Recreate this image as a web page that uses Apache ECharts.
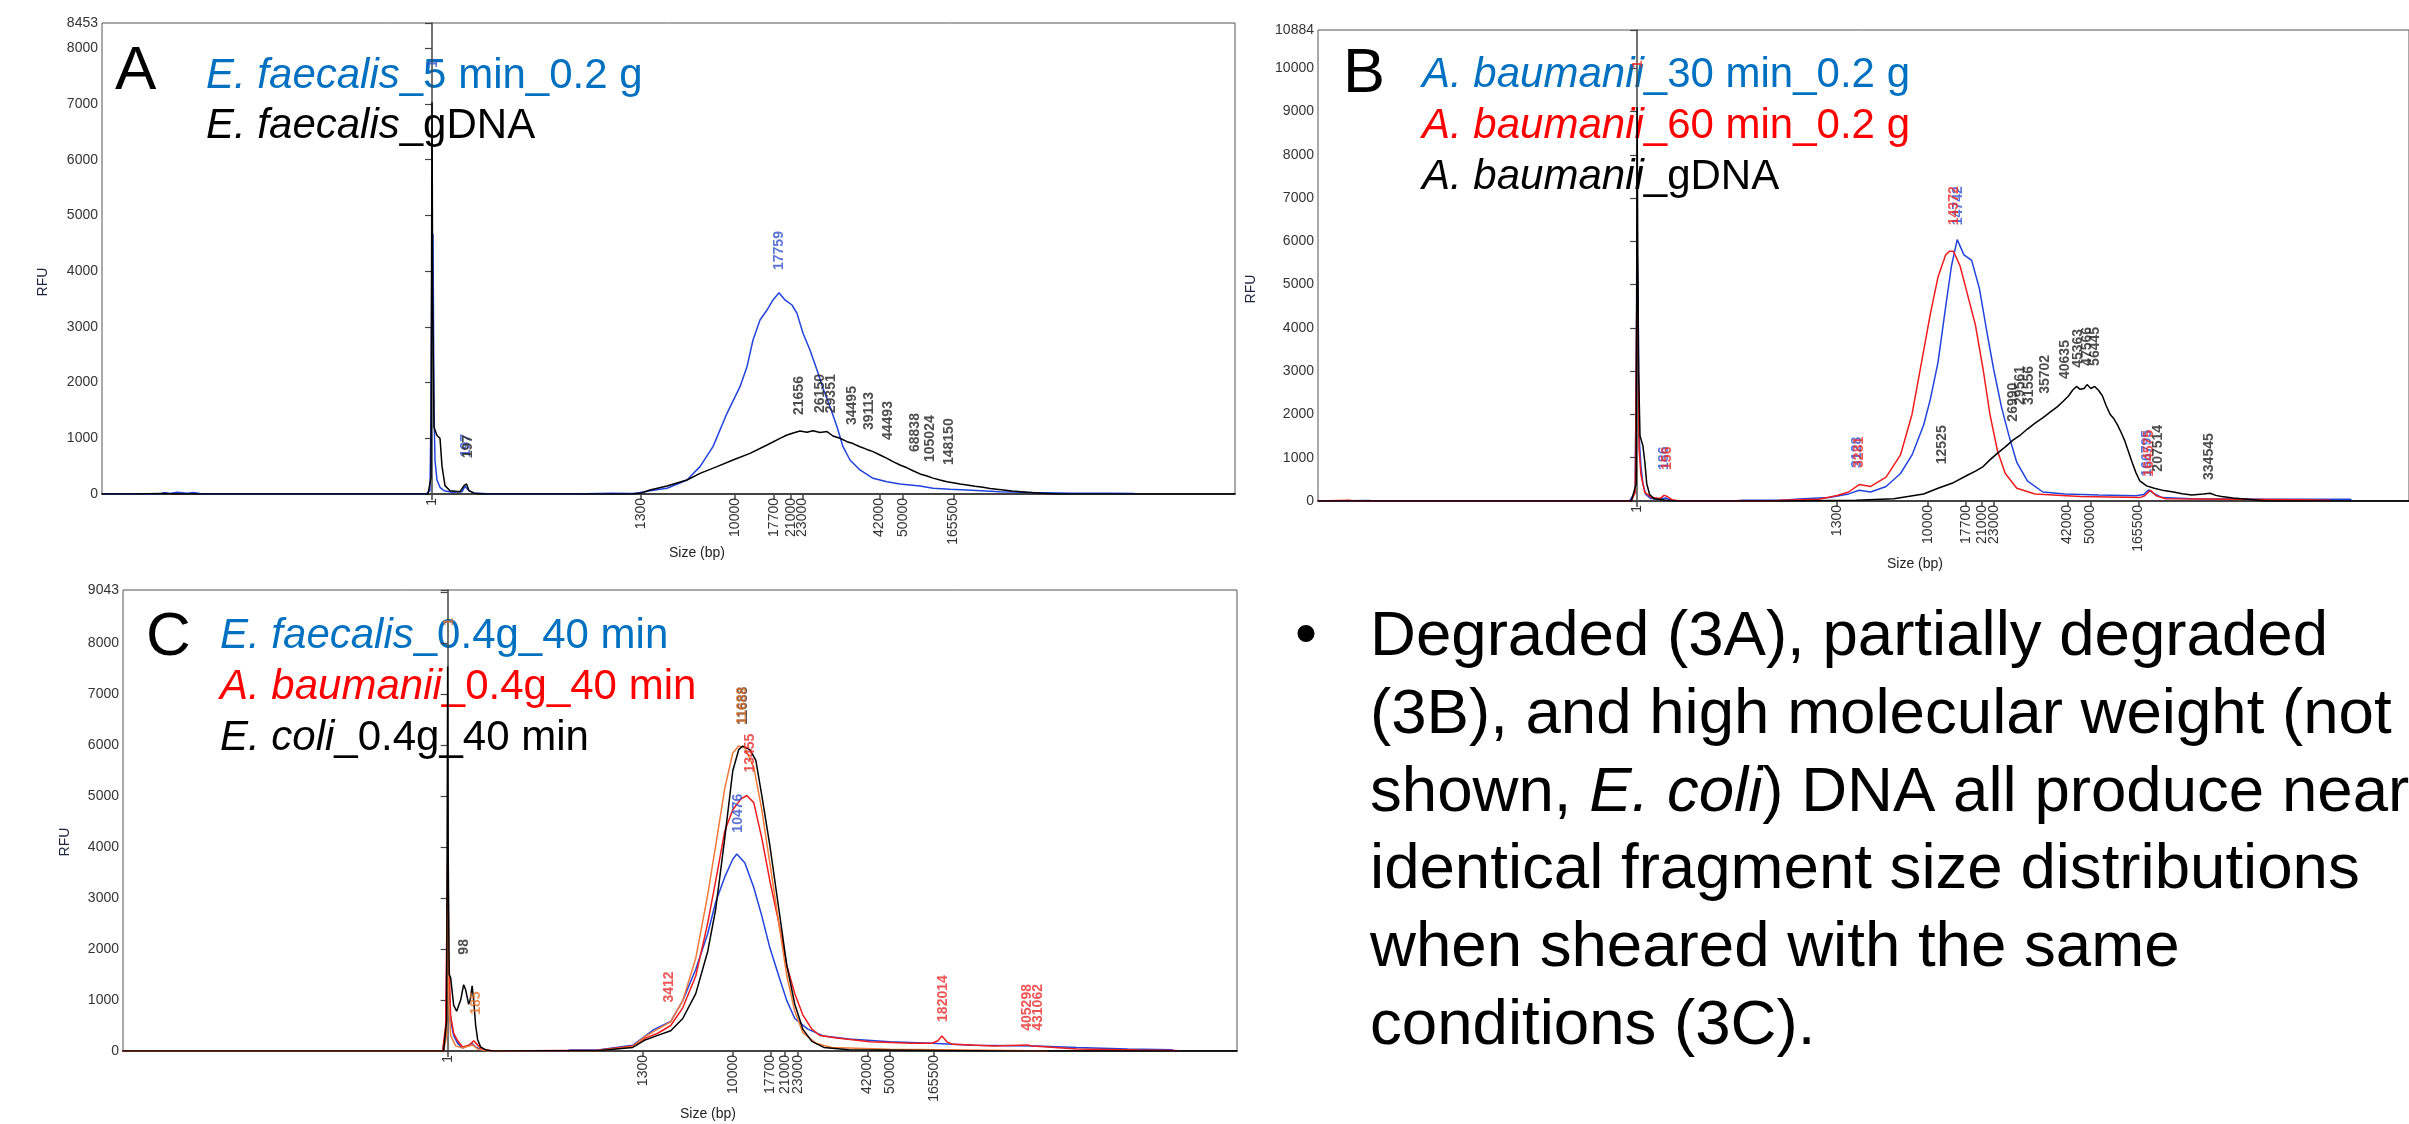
<!DOCTYPE html>
<html>
<head>
<meta charset="utf-8">
<script src="https://cdn.jsdelivr.net/npm/echarts@6/dist/echarts.min.js"></script>
<style>
html,body{margin:0;padding:0;background:#fff;}
#chart{width:2409px;height:1124px;}
</style>
</head>
<body>
<div id="chart"></div>
<script>
// ---------- DATA (scan position, RFU) ----------
const X_TICK_LABELS = ['1','1300','10000','17700','21000','23000','42000','50000','165500'];
const A_X_TICKS = [0, 208.7, 303, 342, 358.7, 370.3, 447.3, 470.7, 521.3];
const B_X_TICKS = [0, 208, 302.6, 341.8, 359, 371.4, 447.5, 471.6, 521.7];
const C_X_TICKS = [0, 195, 285, 322.6, 337, 350, 419.6, 442.4, 486];

const A_Y_MAX = 8453, B_Y_MAX = 10884, C_Y_MAX = 9043;

// Panel A
const A_EF_5MIN = [[-330,0],[-272,0],[-268,25],[-262,8],[-255,30],[-245,12],[-238,25],[-230,0],[-6,0],[-2,60],[-1,1500],[0,4700],[1,4650],[2,1500],[3,600],[5,250],[8,120],[12,60],[20,30],[30,40],[33,140],[35,150],[37,60],[42,20],[60,0],[138,0],[140,12],[180,15],[201,10],[208,25],[218,60],[235,102],[255,251],[268,491],[281,850],[295,1448],[308,1927],[315,2285],[321,2764],[328,3123],[335,3302],[341,3482],[347,3613],[353,3482],[360,3392],[365,3242],[371,2884],[378,2584],[385,2226],[391,1897],[398,1567],[405,1208],[411,849],[418,610],[428,431],[441,281],[455,221],[468,180],[488,144],[501,102],[518,84],[535,72],[568,42],[600,25],[640,15],[680,12],[702,10],[705,0]];
const A_EF_GDNA = [[-330,0],[-300,0],[-270,10],[-250,0],[-4,0],[-1,300],[0,7030],[0.7,3500],[2,1200],[5,1050],[8,1000],[10,500],[13,150],[18,60],[28,40],[32,150],[34.5,180],[37,60],[42,15],[50,0],[200,0],[210,20],[218,72],[235,144],[255,251],[268,371],[285,491],[301,610],[318,730],[335,879],[348,999],[355,1059],[362,1100],[368,1130],[375,1110],[381,1135],[388,1105],[395,1120],[401,1041],[408,1000],[415,939],[421,905],[428,849],[435,800],[441,760],[448,700],[455,640],[461,580],[468,520],[475,470],[481,418],[488,360],[495,323],[501,285],[508,251],[515,220],[521,203],[528,180],[535,162],[543,140],[551,120],[558,100],[565,84],[580,55],[595,30],[610,12],[625,0],[803,0]];
const A_BLUE_LABELS = [[347,4020,'17759'],[34.5,660,'197'],[1,7650,'1']];
const A_BLACK_LABELS = [[367,1418,'21656'],[388,1454,'26150'],[399,1450,'29351'],[420,1238,'34495'],[437,1148,'39113'],[456,969,'44493'],[483,754,'68838'],[498,574,'105024'],[517,520,'148150'],[36,640,'197']];

// Panel B
const B_AB_30MIN = [[-332,0],[-280,10],[-270,0],[-8,0],[-2,200],[0,5770],[1,4900],[2,1500],[4,800],[6,400],[9,150],[14,60],[22,40],[27,60],[30,70],[34,30],[40,0],[100,0],[110,20],[150,20],[173,53],[200,79],[220,164],[231,250],[243,208],[259,336],[274,635],[286,1064],[298,1749],[305,2347],[313,3204],[321,4490],[327,5430],[333,6040],[340,5688],[348,5560],[356,4917],[364,3889],[371,3033],[379,2176],[387,1493],[395,891],[406,463],[422,208],[445,162],[480,139],[519,122],[527,150],[532,255],[537,180],[546,79],[577,53],[655,40],[742,40],[744,0]];
const B_AB_60MIN = [[-332,0],[-300,15],[-295,0],[-6,0],[-2,200],[0,5500],[1,4000],[2,1200],[4,600],[8,200],[15,80],[24,60],[28,130],[31,110],[36,30],[45,0],[140,0],[150,20],[189,40],[208,125],[220,208],[231,380],[243,336],[259,550],[274,1064],[286,2005],[298,3461],[305,4317],[313,5174],[321,5688],[325,5771],[329,5773],[336,5430],[344,4745],[352,4060],[360,3033],[367,2005],[375,1150],[383,635],[395,293],[414,162],[461,104],[523,79],[528,120],[534,250],[540,120],[550,53],[616,40],[690,30],[720,20],[722,0]];
const B_AB_GDNA = [[-332,0],[-6,0],[-1,400],[0,9100],[0.6,6070],[1.5,3000],[3,1500],[6,1278],[8,900],[10,400],[13,150],[18,50],[30,20],[40,0],[150,0],[228,20],[267,53],[298,162],[313,293],[329,423],[344,600],[352,690],[360,796],[367,950],[375,1107],[383,1250],[391,1407],[399,1530],[406,1663],[414,1800],[422,1920],[430,2060],[437,2176],[443,2300],[449,2433],[453,2560],[457,2647],[461,2580],[465,2600],[468,2690],[472,2600],[476,2647],[480,2560],[484,2433],[488,2200],[492,2005],[496,1900],[500,1749],[504,1560],[507,1407],[511,1150],[515,891],[519,650],[523,463],[530,350],[538,293],[548,240],[558,208],[567,170],[577,139],[589,162],[596,180],[602,130],[608,104],[620,70],[635,40],[655,0],[803,0]];
const B_BLUE_LABELS = [[334,6373,'14742'],[28,718,'186'],[229,764,'3128'],[531,563,'166795']];
const B_RED_LABELS = [[330,6373,'14372'],[31,718,'156'],[231,764,'3281'],[533,563,'164575'],[1.4,10000,'1']];
const B_BLACK_LABELS = [[317,850,'12525'],[391,1834,'26990'],[398.5,2220,'29561'],[408,2220,'31556'],[424,2477,'35702'],[445,2819,'40635'],[459,3077,'45363'],[468,3122,'47566'],[477,3122,'56445'],[542,678,'207514'],[595,486,'334545']];

// Panel C
const C_EF_40MIN = [[-325,0],[-5,0],[-2,400],[0,3000],[1,1400],[3,600],[6,300],[10,150],[15,60],[20,100],[24,150],[28,80],[34,20],[45,0],[120,0],[122,20],[152,24],[185,112],[198,300],[206,418],[223,580],[235,988],[248,1605],[260,2304],[268,2928],[277,3415],[285,3761],[289,3865],[297,3692],[306,3207],[314,2651],[322,2029],[331,1471],[339,988],[347,638],[360,430],[376,293],[401,236],[442,183],[484,153],[525,112],[588,99],[629,70],[680,40],[724,24],[726,0]];
const C_AB_40MIN = [[-325,0],[-5,0],[-2,500],[0,3760],[0.5,3500],[1,2000],[3,700],[6,350],[10,200],[15,80],[22,120],[26,200],[29,140],[34,40],[45,0],[150,15],[185,99],[198,257],[210,348],[223,500],[235,847],[248,1471],[260,2512],[268,3345],[277,4317],[285,4733],[293,4941],[299,5012],[306,4872],[314,4177],[322,3345],[331,2512],[339,1679],[347,1125],[355,709],[364,430],[372,306],[389,257],[422,183],[463,153],[484,153],[490,200],[494,293],[499,180],[505,130],[546,99],[579,120],[585,100],[629,40],[691,20],[728,12],[730,0]];
const C_EC_40MIN = [[-325,0],[-4,0],[-1,600],[0,7540],[0.5,4000],[1.5,1500],[3,1440],[6,900],[9,780],[13,1000],[16,1300],[18,1200],[21,917],[22.5,1000],[24.5,1280],[26,1000],[28,500],[30,222],[33,80],[38,20],[45,0],[152,12],[185,70],[198,222],[210,306],[223,397],[235,638],[248,1126],[260,1958],[268,2790],[277,4177],[285,5497],[291,5913],[295,5982],[302,5913],[308,5705],[314,5014],[322,4040],[331,2790],[339,1679],[347,917],[355,430],[364,188],[376,70],[401,24],[484,12],[560,0],[789,0]];
const C_EXTRA = [[-325,0],[-4,0],[-1,300],[0,3700],[1,1000],[3,300],[8,100],[15,60],[25,120],[30,40],[40,0],[152,12],[185,85],[198,293],[210,430],[223,570],[235,988],[248,1819],[260,3070],[268,4040],[277,5151],[285,5845],[291,5982],[297,5948],[306,5566],[314,4733],[322,3692],[331,2512],[339,1471],[347,778],[355,361],[368,153],[384,70],[442,35],[567,12],[600,0]];
const C_BLUE_LABELS = [[290,4283,'10476']];
const C_RED_LABELS = [[221,950,'3412'],[302,5461,'13455'],[495.5,570,'182014'],[579,397,'405298'],[590,397,'431062']];
const C_BLACK_LABELS = [[295.5,6398,'11688'],[16.3,1890,'98']];
const C_ORANGE_LABELS = [[294,6398,'11688'],[1,8343,'1'],[28,710,'185']];

// ---------- STYLE ----------
const FONT = '"Liberation Sans", Arial, sans-serif';
const TRACE = {blue:'#2244dd', red:'#ee1c1c', black:'#000000', orange:'#f07a3a'};
const LBL = {blue:'#3352cc', red:'#e82a2a', black:'#222222', orange:'#e3742f'};
const LEG = {blue:'#0070C0', red:'#FF0000', black:'#000000'};

const grids = [
  {left:102, top:23, right:1174, bottom:630},
  {left:1318, top:30, right:-44, bottom:623},
  {left:123, top:590, right:1172, bottom:73}
];
grids.forEach(g => { g.show = true; g.borderColor = '#555'; g.borderWidth = 1; g.backgroundColor = 'transparent'; });

function rangeTicks(max, step){ const a=[]; for(let v=0; v<=max; v+=step) a.push(v); return a; }

function xAxis(i, min, max, ticks){
  return {
    type:'value', gridIndex:i, min:min, max:max,
    axisLine:{show:true, onZero:false, lineStyle:{color:'#444', width:2}},
    axisTick:{show:true, customValues:ticks, length:6, lineStyle:{color:'#444', width:1.5}},
    axisLabel:{customValues:ticks, rotate:90, fontSize:14, color:'#333', fontFamily:FONT, margin:4,
      formatter:(v)=>{ let k=-1, best=1e9; ticks.forEach((t,j)=>{ const d=Math.abs(t-v); if(d<best){best=d;k=j;} }); return best<0.5 ? X_TICK_LABELS[k] : ''; }},
    splitLine:{show:false}
  };
}
function yAxis(i, max, tickVals, labelVals){
  return {
    type:'value', gridIndex:i, min:0, max:max,
    axisLine:{show:true, lineStyle:{color:'#444', width:1.5}},
    axisTick:{show:true, customValues:tickVals, length:7, lineStyle:{color:'#444', width:1.2}},
    axisLabel:{customValues:labelVals, fontSize:14, color:'#333', fontFamily:FONT, margin:4,
      formatter:(v)=>String(Math.round(v))},
    splitLine:{show:false}
  };
}

function line(i, data, color, w){
  return {type:'line', xAxisIndex:i, yAxisIndex:i, data:data, showSymbol:false, symbol:'none',
    lineStyle:{color:color, width:w||1.5}, itemStyle:{color:color}, animation:false, silent:true, z:3};
}
function labels(i, data, color){
  return {type:'scatter', xAxisIndex:i, yAxisIndex:i, data:data, symbolSize:0.1,
    itemStyle:{color:'rgba(0,0,0,0)'}, animation:false, silent:true, z:5,
    label:{show:true, position:'inside', rotate:90, align:'left', verticalAlign:'middle',
      formatter:(p)=>p.value[2], color:color, fontSize:14, fontWeight:'bold', fontFamily:FONT}};
}

const yTA = rangeTicks(8000,1000).concat([A_Y_MAX]);
const yTB = rangeTicks(10000,1000).concat([B_Y_MAX]);
const yTC = rangeTicks(9000,1000).concat([C_Y_MAX]);
const yLC = rangeTicks(8000,1000).concat([C_Y_MAX]);

function legendLine(x, y, italic, rest, color){
  return {type:'text', x:x, y:y, silent:true, style:{
    text:'{i|'+italic+'}{n|'+rest+'}', align:'left', verticalAlign:'middle',
    rich:{i:{fontStyle:'italic', fontSize:42, fontFamily:FONT, fill:color},
          n:{fontSize:42, fontFamily:FONT, fill:color}}}};
}
function plainText(x, y, text, size, color){
  return {type:'text', x:x, y:y, silent:true, style:{text:text, fontSize:size, fontFamily:FONT, fill:color, align:'left', verticalAlign:'middle'}};
}
const BODY_SIZE = 63.6;
function bodyLine(y, rich){
  return {type:'text', x:1370, y:y, silent:true, style:{text:rich, align:'left', verticalAlign:'middle',
    fontSize:BODY_SIZE, fontFamily:FONT, fill:'#000',
    rich:{i:{fontStyle:'italic', fontSize:BODY_SIZE, fontFamily:FONT, fill:'#000'}, n:{fontSize:BODY_SIZE, fontFamily:FONT, fill:'#000'}}}};
}
function rfu(x, y){
  return {type:'text', x:x, y:y, rotation:Math.PI/2, silent:true, style:{text:'RFU', fontSize:14, fontFamily:FONT, fill:'#1e2440', align:'center', verticalAlign:'middle'}};
}
function sizeTitle(x, y){
  return {type:'text', x:x, y:y, silent:true, style:{text:'Size (bp)', fontSize:14, fontFamily:FONT, fill:'#222', align:'center', verticalAlign:'middle'}};
}

const graphic = [
  plainText(115, 72, 'A', 62, '#000'),
  legendLine(206, 76, 'E. faecalis', '_5 min_0.2 g', LEG.blue),
  legendLine(206, 126, 'E. faecalis', '_gDNA', LEG.black),
  plainText(1343, 75, 'B', 63, '#000'),
  legendLine(1422, 75, 'A. baumanii', '_30 min_0.2 g', LEG.blue),
  legendLine(1422, 126, 'A. baumanii', '_60 min_0.2 g', LEG.red),
  legendLine(1422, 177, 'A. baumanii', '_gDNA', LEG.black),
  plainText(146, 638, 'C', 62, '#000'),
  legendLine(220, 636, 'E. faecalis', '_0.4g_40 min', LEG.blue),
  legendLine(220, 687, 'A. baumanii', '_0.4g_40 min', LEG.red),
  legendLine(220, 738, 'E. coli', '_0.4g_40 min', LEG.black),
  rfu(43, 282), rfu(1251, 289), rfu(65, 842),
  sizeTitle(697, 553), sizeTitle(1915, 564), sizeTitle(708, 1114),
  plainText(1295, 637, '•', 63, '#000'),
  bodyLine(637, 'Degraded (3A), partially degraded'),
  bodyLine(715, '(3B), and high molecular weight (not'),
  bodyLine(793, 'shown, {i|E. coli}) DNA all produce near'),
  bodyLine(870, 'identical fragment size distributions'),
  bodyLine(948, 'when sheared with the same'),
  bodyLine(1026, 'conditions (3C).')
];

const option = {
  backgroundColor:'#ffffff',
  animation:false,
  grid:grids,
  xAxis:[xAxis(0,-330,803,A_X_TICKS), xAxis(1,-332,803,B_X_TICKS), xAxis(2,-324.5,789,C_X_TICKS)],
  yAxis:[yAxis(0,A_Y_MAX,yTA,yTA), yAxis(1,B_Y_MAX,yTB,yTB), yAxis(2,C_Y_MAX,yTC,yLC)],
  graphic:graphic,
  series:[
    line(0, A_EF_5MIN, TRACE.blue),
    line(0, A_EF_GDNA, TRACE.black),
    labels(0, A_BLUE_LABELS, LBL.blue),
    labels(0, A_BLACK_LABELS, LBL.black),
    line(1, B_AB_30MIN, TRACE.blue),
    line(1, B_AB_60MIN, TRACE.red),
    line(1, B_AB_GDNA, TRACE.black),
    labels(1, B_BLUE_LABELS, LBL.blue),
    labels(1, B_RED_LABELS, LBL.red),
    labels(1, B_BLACK_LABELS, LBL.black),
    line(2, C_EF_40MIN, TRACE.blue),
    line(2, C_AB_40MIN, TRACE.red),
    line(2, C_EXTRA, TRACE.orange),
    line(2, C_EC_40MIN, TRACE.black),
    labels(2, C_BLUE_LABELS, LBL.blue),
    labels(2, C_RED_LABELS, LBL.red),
    labels(2, C_BLACK_LABELS, LBL.black),
    labels(2, C_ORANGE_LABELS, LBL.orange)
  ]
};
const chart = echarts.init(document.getElementById('chart'), null, {renderer:'canvas'});
chart.setOption(option);
</script>
</body>
</html>
